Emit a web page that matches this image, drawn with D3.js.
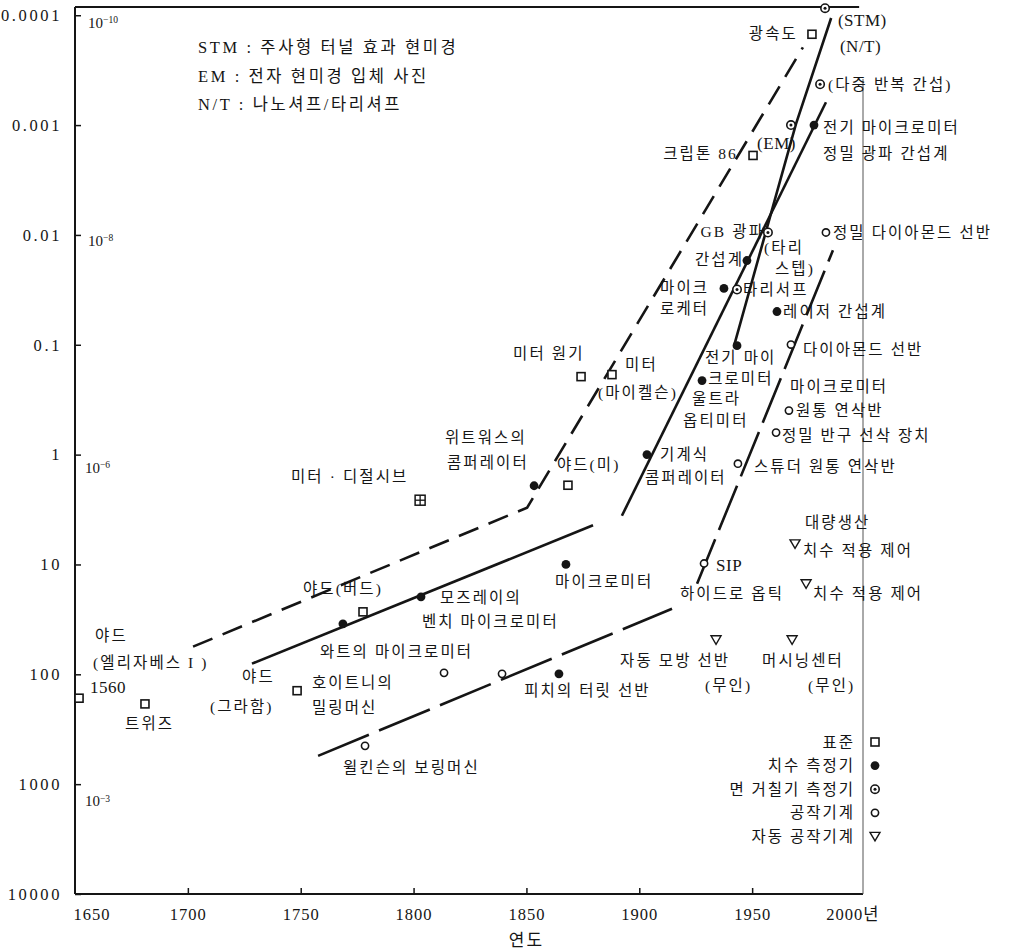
<!DOCTYPE html>
<html><head><meta charset="utf-8">
<script src="https://cdn.jsdelivr.net/npm/d3@7"></script>
<style>
body{margin:0;background:#fff;}
svg text{font-family:"Liberation Serif","Noto Sans CJK KR",serif;fill:#151515;}
</style></head><body><svg id="c" width="1024" height="950"></svg>
<script>
// ---------- axis data ----------
const yearTicks = [1650,1700,1750,1800,1850,1900,1950,2000];
const yearTickLabels = ["1650","1700","1750","1800","1850","1900","1950","2000년"];
const valueTicks = [0.0001,0.001,0.01,0.1,1,10,100,1000,10000];
const valueTickLabels = ["0.0001","0.001","0.01","0.1","1","10","100","1000","10000"];
const xTitle = "연도";
// metre equivalents written inside the frame: [base, exponent, year, value]
const meterNotes = [["10","-10",1655.8,0.000116],["10","-8",1655.8,0.0112],["10","-6",1654.4,1.31],["10","-3",1654.4,1420]];

// ---------- marker series: [name, year, precision(µm)] ----------
const standards = [
  ["야드 (엘리자베스 I) 1560",1651.8,165],["트위즈",1681,186],["야드 (그라함)",1748.4,141],
  ["야드 (버드)",1777.6,27],["야드 (미)",1868.4,1.9],["미터 원기",1874.2,0.195],
  ["미터 (마이켈슨)",1887.9,0.187],["크립톤 86",1950.4,0.00189],["광속도",1976.5,0.000149]
];
const standardsCrossed = [["미터 · 디절시브",1802.9,2.6]];
const gauges = [
  ["와트의 마이크로미터",1768.7,34.7],["모즈레이의 벤치 마이크로미터",1803.3,19.7],
  ["위트워스의 콤퍼레이터",1853.4,1.92],["피치의 터릿 선반",1864.4,99],["마이크로미터",1867.5,10],
  ["기계식 콤퍼레이터",1903.4,1.0],["울트라 옵티미터",1927.8,0.212],["마이크로케터",1937.5,0.0307],
  ["전기 마이크로미터",1943.3,0.102],["GB 광파 간섭계",1947.7,0.0171],["레이저 간섭계",1961,0.0498],
  ["전기 마이크로미터 정밀 광파 간섭계",1977.4,0.001]
];
const roughness = [["STM",1982.3,0.0000863],["다중 반복 간섭",1980.1,0.000425],["EM",1967.2,0.001],
  ["GB 광파",1957,0.0095],["타리서프",1943.3,0.0314]];
const machines = [["윌킨슨의 보링머신",1778.5,448],["와트",1813.5,97],["호이트니",1839.2,99],["SIP",1928.7,9.8],
  ["스튜더 원통 연삭반",1943.7,1.21],["정밀 반구 선삭 장치",1960.6,0.63],["원통 연삭반",1966.3,0.397],
  ["다이아몬드 선반",1967.2,0.0995],["정밀 다이아몬드 선반",1982.7,0.0095]];
const autoMachines = [["자동 모방 선반",1934,48.5],["머시닝센터",1967.7,48.5],["대량생산",1969,6.5],["하이드로 옵틱",1973.9,15]];

// ---------- trend lines: [year, precision] ----------
const standardTrend = [[1702.3,56],[1850.3,3.04],[1972.5,0.000196]];
const gaugeTrendEarly = [[1728.4,80],[1879.5,4.4]];
const gaugeTrendModern = [[1892.3,3.6],[1982.7,0.00062]];
const roughnessTrend = [[1985,0.000106],[1969.4,0.00098],[1942.0,0.1016]];
const machineTrendEarly = [[1757.7,553],[1914.5,25.3]];
const machineTrendModern = [[1925.6,15],[1985.8,0.0138]];

// ---------- annotations: [text, year, value, anchor] ----------
const notes = [
  ["광속도",1970.3,0.000146,"end"],
  ["(다중 반복 간섭)",1983.6,0.000425,"start"],["전기 마이크로미터",1981.4,0.00105,"start"],
  ["정밀 광파 간섭계",1981.4,0.00181,"start"],["크립톤 86",1943.7,0.00181,"end"],
  ["GB 광파",1955.7,0.0093,"end"],["간섭계",1946.4,0.0167,"end"],["(타리",1955.3,0.013,"start"],
  ["스텝)",1960.1,0.0202,"start"],["마이크",1909.2,0.030,"start"],["로케터",1909.2,0.0468,"start"],
  ["타리서프",1946.0,0.0314,"start"],["레이저 간섭계",1963.7,0.0498,"start"],
  ["정밀 다이아몬드 선반",1985.8,0.0095,"start"],["다이아몬드 선반",1972.5,0.11,"start"],
  ["전기 마이",1929.1,0.13,"start"],["크로미터",1930.5,0.203,"start"],["울트라",1923.4,0.309,"start"],
  ["옵티미터",1919.4,0.49,"start"],["마이크로미터",1966.8,0.24,"start"],["원통 연삭반",1969.4,0.397,"start"],
  ["정밀 반구 선삭 장치",1963.2,0.671,"start"],["스튜더 원통 연삭반",1950.8,1.29,"start"],
  ["미터 원기",1844.1,0.12,"start"],["미터",1893.7,0.151,"start"],["(마이켈슨)",1881.7,0.272,"start"],
  ["위트워스의",1813.9,0.70,"start"],["콤퍼레이터",1814.8,1.18,"start"],["야드(미)",1863.5,1.23,"start"],
  ["기계식",1909.2,1.0,"start"],["콤퍼레이터",1902.5,1.62,"start"],["미터 · 디절시브",1745.7,1.59,"start"],
  ["야드(버드)",1751.0,16.6,"start"],["모즈레이의",1811.7,20.1,"start"],["벤치 마이크로미터",1803.7,33.2,"start"],
  ["마이크로미터",1862.7,14.4,"start"],["하이드로 옵틱",1918,18.5,"start"],
  ["치수 적용 제어",1977,18.5,"start"],["대량생산",1973.4,4.17,"start"],["치수 적용 제어",1972.5,7.5,"start"],
  ["와트의 마이크로미터",1758.5,62.4,"start"],["야드",1658.9,44.6,"start"],["(엘리자베스  I )",1658,78.6,"start"],
  ["야드",1724,105,"start"],["(그라함)",1709.8,198,"start"],
  ["호이트니의",1755,119,"start"],["밀링머신",1755,202,"start"],["트위즈",1672.2,282,"start"],
  ["자동 모방 선반",1891.5,75,"start"],["(무인)",1929.1,127,"start"],["머시닝센터",1954.4,75,"start"],
  ["(무인)",1974.8,127,"start"],["피치의 터릿 선반",1849,141,"start"],["윌킨슨의 보링머신",1768.7,711,"start"]
];
// Latin-only annotations (larger serif type)
const latinNotes = [["(STM)",1988.0,0.000111],["(N/T)",1988.9,0.000192],["(EM)",1952.2,0.00144],["SIP",1934,10.05],["1560",1656.6,130]];
const abbrevNotes = ["STM : 주사형 터널 효과 현미경","EM : 전자 현미경 입체 사진","N/T : 나노셔프/타리셔프"];
const abbrevYear = 1704.5;
const abbrevValues = [0.000196,0.00036,0.000647];
const legendLabels = ["표준","치수 측정기","면 거칠기 측정기","공작기계","자동 공작기계"];
const legendShapes = ["square","dot","target","circle","triangle"];

// ---------- drawing ----------
const svg = d3.select("#c");
const x = d3.scaleLinear().domain([1650,2000]).range([75,865]);
const y = d3.scaleLog().domain([Math.pow(10,-4.075),10000]).range([7,894]);
const ink = "#151515";

// frame
svg.append("line").attr("x1",x(1650)).attr("x2",x(1650)).attr("y1",y.range()[0]).attr("y2",y(10000)).attr("stroke",ink).attr("stroke-width",2);
svg.append("line").attr("x1",x(1650)).attr("x2",x(2000)-2).attr("y1",y(10000)).attr("y2",y(10000)).attr("stroke",ink).attr("stroke-width",2);
svg.append("line").attr("x1",x(1650)).attr("x2",x(1997.4)).attr("y1",y.range()[0]).attr("y2",y.range()[0]).attr("stroke",ink).attr("stroke-width",2);
svg.append("line").attr("x1",x(2000)-2).attr("x2",x(2000)-2).attr("y1",y(0.00038)).attr("y2",y(10000)).attr("stroke","#555").attr("stroke-width",1);

// axes
const gy = svg.append("g").attr("transform",`translate(${x(1650)},0)`)
  .call(d3.axisLeft(y).tickValues(valueTicks).tickSize(-6).tickPadding(13)
    .tickFormat((d,i)=>valueTickLabels[i]));
gy.select(".domain").remove();
gy.selectAll("line").attr("stroke",ink).attr("stroke-width",1.5);
gy.selectAll("text").style("font-size","16.5px").style("letter-spacing","2.6px").attr("fill",ink);

const gx = svg.append("g").attr("transform",`translate(0,${y(10000)})`)
  .call(d3.axisBottom(x).tickValues(yearTicks).tickSize(-6).tickPadding(14)
    .tickFormat((d,i)=>yearTickLabels[i]));
gx.select(".domain").remove();
gx.selectAll("line").attr("stroke",ink).attr("stroke-width",1.5);
gx.selectAll("text").style("font-size","16.5px").style("letter-spacing","1px").attr("fill",ink);
gx.selectAll(".tick text").filter((d)=>d===1650).attr("text-anchor","start").attr("dx",-2);
gx.selectAll(".tick text").filter((d)=>d===2000).attr("text-anchor","end").attr("dx",14);
gx.selectAll(".tick line").filter((d)=>d===1650||d===2000).remove();

svg.append("text").attr("x",x(1850)).attr("y",y(10000)+52).attr("text-anchor","middle")
  .style("font-size","17px").style("letter-spacing","2px").text(xTitle);

// metre notes
meterNotes.forEach(m=>{
  const t = svg.append("text").attr("x",x(m[2])).attr("y",y(m[3])).attr("dy","0.35em").style("font-size","15px");
  t.append("tspan").text(m[0]);
  t.append("tspan").attr("dy","-0.45em").style("font-size","9.5px").text("−"+m[1].slice(1));
});

// trend lines
const line = d3.line().x(d=>x(d[0])).y(d=>y(d[1]));
function trend(data, dash){
  svg.append("path").datum(data).attr("d",line).attr("fill","none").attr("stroke",ink)
    .attr("stroke-width",2.6).attr("stroke-dasharray",dash||null);
}
trend(standardTrend,"21,11");
trend(gaugeTrendEarly);
trend(gaugeTrendModern);
trend(roughnessTrend);
trend(machineTrendEarly,"55,11");
trend(machineTrendModern,"48,10");

// markers
function marker(g, shape, cx, cy){
  if(shape==="square"){
    g.append("rect").attr("x",cx-4).attr("y",cy-4).attr("width",8).attr("height",8)
      .attr("fill","#fff").attr("stroke",ink).attr("stroke-width",1.6);
  } else if(shape==="cross"){
    g.append("rect").attr("x",cx-5).attr("y",cy-5).attr("width",10).attr("height",10)
      .attr("fill","#fff").attr("stroke",ink).attr("stroke-width",1.5);
    g.append("line").attr("x1",cx-5).attr("x2",cx+5).attr("y1",cy).attr("y2",cy).attr("stroke",ink).attr("stroke-width",1.3);
    g.append("line").attr("x1",cx).attr("x2",cx).attr("y1",cy-5).attr("y2",cy+5).attr("stroke",ink).attr("stroke-width",1.3);
  } else if(shape==="dot"){
    g.append("circle").attr("cx",cx).attr("cy",cy).attr("r",4.4).attr("fill",ink);
  } else if(shape==="target"){
    g.append("circle").attr("cx",cx).attr("cy",cy).attr("r",4.2).attr("fill","#fff").attr("stroke",ink).attr("stroke-width",1.6);
    g.append("circle").attr("cx",cx).attr("cy",cy).attr("r",1.5).attr("fill",ink);
  } else if(shape==="circle"){
    g.append("circle").attr("cx",cx).attr("cy",cy).attr("r",3.6).attr("fill","#fff").attr("stroke",ink).attr("stroke-width",1.6);
  } else if(shape==="triangle"){
    g.append("path").attr("d",`M${cx-5},${cy-4}L${cx+5},${cy-4}L${cx},${cy+4.5}Z`)
      .attr("fill","#fff").attr("stroke",ink).attr("stroke-width",1.4);
  }
}
const gm = svg.append("g");
standards.forEach(d=>marker(gm,"square",x(d[1]),y(d[2])));
standardsCrossed.forEach(d=>marker(gm,"cross",x(d[1]),y(d[2])));
gauges.forEach(d=>marker(gm,"dot",x(d[1]),y(d[2])));
roughness.forEach(d=>marker(gm,"target",x(d[1]),y(d[2])));
machines.forEach(d=>marker(gm,"circle",x(d[1]),y(d[2])));
autoMachines.forEach(d=>marker(gm,"triangle",x(d[1]),y(d[2])));

// annotations
const gn = svg.append("g");
notes.forEach(n=>{
  gn.append("text").attr("x",x(n[1])).attr("y",y(n[2])).attr("dy","0.36em")
    .attr("text-anchor",n[3]).style("font-size","15.5px").style("letter-spacing","2.1px").text(n[0]);
});
latinNotes.forEach(n=>{
  gn.append("text").attr("x",x(n[1])).attr("y",y(n[2])).attr("dy","0.36em")
    .style("font-size","17px").style("letter-spacing","0.5px").text(n[0]);
});
abbrevNotes.forEach((t,i)=>{
  gn.append("text").attr("x",x(abbrevYear)).attr("y",y(abbrevValues[i])).attr("dy","0.36em")
    .style("font-size","16.5px").style("letter-spacing","2.6px").text(t);
});

// legend
const lg = svg.append("g").attr("transform",`translate(${x(2000)},742)`);
legendLabels.forEach((t,i)=>{
  const yy = i*23.6;
  lg.append("text").attr("x",-10).attr("y",yy).attr("dy","0.36em").attr("text-anchor","end")
    .style("font-size","15.5px").style("letter-spacing","2px").text(t);
  marker(lg, legendShapes[i], 10, yy);
});
</script></body></html>
